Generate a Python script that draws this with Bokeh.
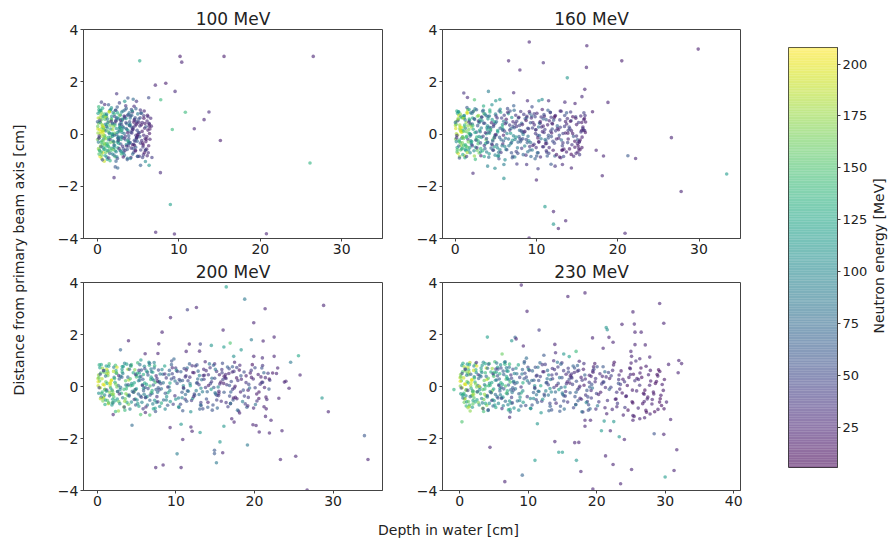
from math import pi
import numpy as np
from bokeh.plotting import figure
from bokeh.layouts import row, column
from bokeh.models import ColumnDataSource, Range1d, FixedTicker, LinearColorMapper, Label
from bokeh.palettes import Viridis256
from bokeh.embed import file_html
from bokeh.resources import INLINE

FONT = "DejaVu Sans"
TITLES = ["100 MeV", "160 MeV", "200 MeV", "230 MeV"]
X_TICKS = [[0, 10, 20, 30], [0, 10, 20, 30], [0, 10, 20, 30], [0, 10, 20, 30, 40]]
Y_TICKS = [-4, -2, 0, 2, 4]
CB_TICKS = [25, 50, 75, 100, 125, 150, 175, 200]
E_LOW, E_HIGH = 5.5, 208.0

# ---------------- 100 MeV ----------------
D100 = [
 0.12,0.48,0.83,0.27,0.66,0.05,0.91,0.38,0.72,0.19,
 0.33,0.57,0.78,0.96,0.08,0.24,0.44,0.63,0.87,0.52,
 0.15,0.36,0.55,0.71,0.93,0.21,0.41,0.61,0.81,0.03,
 0.17,0.39,0.59,0.77,0.98,0.29,0.47,0.69,0.89,0.09,
 0.14,0.34,0.54,0.74,0.94,0.26,0.46,0.64,0.84,0.6,
 1.62,1.08,1.87,1.33,1.45,1.96,1.17,1.71,1.25,1.54,
 1.41,1.79,1.06,1.93,1.28,1.66,1.14,1.52,1.83,1.37,
 1.22,1.58,1.91,1.04,1.74,1.35,1.47,1.85,1.11,1.68,
 1.77,1.19,1.49,1.02,1.64,1.29,1.97,1.39,1.56,1.89,
 2.34,2.81,2.07,2.59,2.93,2.18,2.66,2.42,2.87,2.11,
 2.51,2.26,2.73,2.02,2.95,2.38,2.62,2.15,2.84,2.47,
 2.69,2.13,2.44,2.9,2.28,2.77,2.56,2.05,2.36,2.99,
 2.29,2.71,2.91,2.09,2.79,2.45,2.65,2.18,2.55,2.97,
 3.44,3.08,3.77,3.25,3.92,3.56,3.13,3.69,3.37,3.85,
 3.61,3.19,3.83,3.48,3.02,3.71,3.33,3.96,3.27,3.54,
 3.16,3.88,3.41,3.63,3.06,3.52,3.79,3.29,3.94,3.67,
 4.27,4.71,4.09,4.55,4.86,4.33,4.62,4.18,4.93,4.44,
 4.58,4.12,4.79,4.38,4.96,4.23,4.67,4.04,4.51,4.84,
 4.46,4.02,4.74,4.31,4.89,4.15,4.64,4.97,4.36,4.81,
 5.1,5.3,5.5,5.7,5.9,5.2,5.4,5.6,5.8,6.0,
 6.2,6.1,5.35,5.65,6.3,5.95,5.15,6.4,5.75,6.25,
 5.45,6.05,5.25,5.85,6.35,5.55,6.15,5.05,5.7,6.45,
 10.15,10.36,15.55,26.5,5.2,7.12,8.4,9.54,6.3,7.78,
 10.8,13.7,13.1,11.9,9.2,15.1,26.1,7.74,8.96,7.16,
 9.46,20.75,2.37,2.05,2.2,2.5,5.3,6.35,0.9,0.5,
 3.36,3.75,4.4,6.55,6.62,6.7,5.9,4.8,
 0.07,0.44,0.81,0.23,0.58,0.96,0.31,0.69,0.13,0.52,
 0.28,0.65,0.02,0.88,0.41,0.75,0.18,0.93,0.35,0.62,
 1.18,1.56,1.03,1.84,1.32,1.69,1.09,1.47,1.93,1.27,
 1.61,1.22,1.78,1.4,1.98,1.14,1.52,1.86,1.36,1.73,
 2.16,2.58,2.31,2.86,2.44,2.03,2.74,2.22,2.67,2.95,
 2.39,2.81,2.12,2.63,2.27,2.92,2.53,2.07,2.78,2.48,
 3.21,3.58,3.07,3.86,3.39,3.72,3.14,3.51,3.93,3.29,
 3.66,3.02,3.45,3.81,3.18,3.97,3.34,3.76,3.1,3.55,
 4.17,4.56,4.03,4.84,4.29,4.68,4.11,4.48,4.92,4.36,
 4.63,4.21,4.77,4.41,4.97,4.06,4.52,4.88,4.33,4.73,
 5.22,5.63,5.08,5.87,5.41,5.77,5.16,5.52,5.96,5.33,
 6.08,6.33,5.58,6.21,5.92,6.45,5.28,6.12,5.71,6.38,
]
R100 = [
 0.61,-0.33,0.14,0.86,-0.71,0.29,-0.07,0.47,-0.52,0.93,
 -0.86,0.23,-0.19,0.56,0.04,-0.61,0.73,-0.41,0.17,-0.94,
 0.41,0.01,-0.27,0.67,-0.13,-0.77,0.89,0.31,-0.59,-0.21,
 1.04,-0.46,0.57,-0.03,0.37,0.16,-0.69,-0.26,0.76,0.79,
 -0.56,0.44,-0.81,0.24,-0.39,-0.14,0.09,0.99,-1.04,-0.09,
 -0.12,0.72,0.38,-0.66,0.05,-0.31,-0.88,0.58,0.24,0.91,
 0.47,-0.55,-0.18,0.82,-0.42,0.19,0.66,-0.74,-0.02,1.12,
 -0.97,0.33,-0.27,0.12,0.54,-0.48,0.86,-0.09,0.29,-0.63,
 0.68,-0.36,0.02,-0.71,0.93,0.44,-0.58,-0.22,-1.02,0.16,
 0.21,-0.64,0.77,-0.19,0.46,-0.87,0.09,0.63,-0.38,-0.05,
 -0.53,0.91,0.34,-0.31,-0.76,0.58,-0.12,0.41,0.73,-0.94,
 0.15,-0.43,1.03,-0.66,0.52,0.26,-0.28,-0.81,-0.02,0.84,
 -1.04,1.19,-0.21,0.03,0.23,-0.31,0.58,-0.64,-0.12,0.36,
 -0.22,0.54,0.12,-0.69,0.81,-0.4,0.28,-0.93,0.66,-0.07,
 0.39,-0.57,-0.29,1.08,0.06,0.72,-0.81,0.47,-0.16,0.21,
 0.88,-0.36,-0.62,0.17,-0.12,0.59,-0.46,0.02,0.33,-0.98,
 0.13,-0.51,0.69,-0.24,0.42,-0.77,0.31,0.94,-0.08,-0.39,
 0.56,-0.9,-0.16,0.25,0.77,0.04,-0.62,-0.33,1.06,0.48,
 -0.71,0.37,-0.05,0.84,-0.28,-0.54,0.62,-0.86,0.19,-0.14,
 0.45,-0.35,0.1,0.7,-0.62,-0.1,0.35,-0.5,0.22,-0.2,
 0.15,0.5,0.8,-0.8,-0.45,0.28,-0.85,0.02,0.88,-0.72,
 -0.25,-0.58,0.62,0.4,0.3,-0.9,0.72,0.05,-0.05,-0.2,
 2.97,2.75,2.97,2.97,2.8,1.87,1.94,1.63,1.39,1.31,
 0.83,0.84,0.55,0.2,0.17,-0.25,-1.11,-1.48,-2.7,-3.76,
 -3.83,-3.82,1.54,-1.67,-1.26,-1.3,-1.2,-1.2,1.13,1.22,
 1.25,1.38,1.33,0.6,0.3,-0.9,-1.05,1.25,
 0.19,-0.49,0.68,-0.08,0.36,-0.83,0.53,0.07,-0.31,0.81,
 -0.64,0.12,0.47,-0.36,0.91,0.27,-0.16,-0.58,0.62,-0.99,
 0.36,-0.21,0.64,-0.77,0.11,0.49,-0.46,0.84,-0.03,-0.63,
 -0.32,0.57,0.02,-0.92,0.29,0.76,-0.54,0.41,-0.13,1.0,
 0.34,-0.25,-0.68,0.53,0.06,-0.43,0.72,0.91,-0.56,-0.11,
 -0.87,0.26,0.67,-0.36,0.49,0.14,-0.16,-0.52,0.38,0.81,
 0.24,-0.46,0.57,-0.18,0.92,0.05,-0.73,0.43,-0.34,0.69,
 -0.59,0.15,-0.09,0.74,-0.88,0.33,0.61,-0.27,-0.47,0.98,
 0.27,-0.43,0.61,-0.15,0.88,-0.65,0.06,0.45,-0.85,0.18,
 -0.28,0.72,0.36,-0.56,-0.02,-0.94,0.53,0.14,-0.41,0.97,
 0.31,-0.42,0.57,-0.17,0.79,-0.72,0.05,0.44,-0.29,-0.61,
 -0.1,0.41,-0.35,0.66,-0.61,0.19,0.92,-0.83,0.6,0.38,
]
E100 = [
 186,152,171,122,197,161,139,178,112,131,
 201,166,96,154,176,126,189,146,169,187,
 167,183,134,101,159,149,147,193,117,164,
 141,177,157,184,91,196,129,163,144,121,
 174,106,161,139,181,156,199,127,191,176,
 151,96,131,171,111,184,81,144,121,76,
 161,116,174,91,136,104,149,66,141,61,
 124,164,101,86,154,131,188,114,71,146,
 106,139,89,159,119,79,169,99,134,179,
 109,81,134,61,94,151,71,119,56,89,
 126,66,99,84,141,74,116,51,104,49,
 91,129,61,109,71,96,144,79,64,101,
 69,46,121,159,87,112,93,138,76,58,
 71,51,94,41,81,109,61,84,46,66,
 89,56,69,36,101,43,76,59,31,47,
 86,64,41,99,56,119,44,81,34,61,
 41,66,31,54,26,79,36,51,21,59,
 46,29,69,36,89,41,23,59,31,54,
 49,84,39,26,71,34,57,23,44,28,
 30,45,20,38,25,55,15,40,28,18,
 22,30,48,35,20,60,40,18,25,32,
 35,26,50,20,28,45,22,62,30,24,
 20,25,20,25,125,25,20,30,50,140,
 140,30,25,25,140,20,135,30,120,25,
 25,25,35,30,60,70,65,110,30,45,
 110,55,75,30,25,40,100,35,
 190,60,150,35,175,120,45,200,90,165,
 145,185,70,160,110,195,30,140,175,55,
 130,45,180,95,155,25,140,190,70,115,
 160,85,125,40,175,100,150,60,135,110,
 140,40,95,25,120,70,160,55,30,105,
 85,130,50,110,35,150,75,100,60,125,
 90,35,125,55,70,25,105,45,80,30,
 60,115,40,75,20,95,50,130,35,65,
 60,20,85,35,110,25,45,15,70,30,
 40,75,25,55,18,95,30,50,22,65,
 35,20,55,25,70,18,40,30,22,45,
 25,40,18,30,50,20,35,28,15,22,
]

# ---------------- 160 MeV ----------------
D160 = [
 0.11,0.52,0.84,0.29,0.67,0.04,0.93,0.41,0.75,0.22,
 0.36,0.58,0.79,0.97,0.16,0.26,0.46,0.63,0.88,0.55,
 0.13,0.31,0.49,0.71,0.91,0.24,0.44,0.61,0.82,0.06,
 1.42,1.07,1.88,1.31,1.63,1.96,1.19,1.74,1.26,1.55,
 1.37,1.81,1.04,1.92,1.27,1.68,1.13,1.51,1.86,1.46,
 1.21,1.57,1.93,1.02,1.76,1.34,1.48,1.84,1.11,1.66,
 2.23,2.71,2.08,2.56,2.94,2.37,2.62,2.15,2.83,2.45,
 2.52,2.29,2.77,2.04,2.96,2.41,2.67,2.12,2.88,2.49,
 3.31,3.74,3.09,3.55,3.88,3.22,3.63,3.15,3.92,3.46,
 3.58,3.26,3.81,3.03,3.97,3.39,3.68,3.12,3.85,3.5,
 4.35,4.82,4.06,4.61,4.93,4.19,4.72,4.27,4.88,4.48,
 4.56,4.14,4.78,4.39,4.97,4.23,4.66,4.02,4.53,4.85,
 5.36,5.84,5.07,5.61,5.95,5.21,5.72,5.28,5.89,5.47,
 5.55,5.12,5.78,5.39,5.98,5.24,5.66,5.03,5.51,5.83,
 6.31,6.84,6.08,6.55,6.93,6.19,6.71,6.26,6.88,6.45,
 7.34,7.79,7.06,7.58,7.92,7.21,7.67,7.13,7.86,7.46,
 6.62,7.27,6.97,7.52,6.38,7.74,6.76,7.41,6.14,7.97,
 8.32,8.81,8.07,8.56,8.94,8.19,8.71,8.26,8.88,8.45,
 9.33,9.84,9.06,9.57,9.93,9.21,9.72,9.28,9.89,9.46,
 8.62,9.18,8.97,9.52,8.38,9.74,8.76,9.41,8.14,9.97,
 10.31,10.83,10.06,10.57,10.94,10.21,10.72,10.27,10.88,10.46,
 11.33,11.81,11.07,11.58,11.94,11.22,11.71,11.26,11.87,11.46,
 10.62,11.17,10.98,11.53,10.38,11.76,10.77,11.42,10.14,11.98,
 12.33,12.82,12.06,12.57,12.93,12.21,12.72,12.27,12.88,12.46,
 13.34,13.81,13.07,13.58,13.92,13.21,13.71,13.26,13.87,13.46,
 14.32,14.83,14.07,14.56,14.94,14.21,14.72,14.27,14.88,14.46,
 15.31,15.82,15.06,15.57,15.93,15.21,15.71,15.27,16.02,15.46,
 9.12,16.2,29.9,6.58,10.85,20.5,7.97,16.15,13.8,1.07,
 1.52,4.1,7.2,15.95,15.6,18.8,2.38,5.0,5.5,8.9,
 10.3,10.7,11.5,13.5,14.75,16.9,26.6,17.35,18.25,21.25,
 22.2,33.4,18.1,27.8,2.2,6.0,10.0,11.05,12.1,12.1,
 12.7,13.6,20.9,9.1,4.0,4.9,6.0,7.1,7.6,8.8,
 10.2,10.5,11.8,12.3,13.2,14.3,13.0,13.7,15.1,15.6,
 0.08,0.46,0.83,0.21,0.57,0.95,0.33,0.71,0.15,0.64,
 0.27,0.66,0.03,0.89,0.42,0.76,0.19,0.92,0.36,0.53,
 1.17,1.57,1.04,1.85,1.33,1.7,1.08,1.48,1.94,1.26,
 1.62,1.23,1.79,1.41,1.99,1.13,1.53,1.87,1.37,1.72,
 2.17,2.59,2.32,2.87,2.45,2.04,2.75,2.21,2.68,2.96,
 3.22,3.59,3.06,3.87,3.4,3.73,3.13,3.52,3.94,3.28,
 3.67,3.01,3.44,3.82,3.17,3.98,2.35,2.83,2.12,2.64,
 4.18,4.57,4.04,4.85,4.28,4.69,4.12,4.47,4.93,4.37,
 4.64,4.22,4.76,4.42,4.96,5.23,5.64,5.09,5.86,5.42,
 5.78,5.17,5.53,5.95,5.34,6.18,6.57,6.04,6.83,6.36,
 6.72,6.11,6.48,6.94,6.29,7.18,7.56,7.03,7.84,7.37,
 7.71,7.12,7.48,7.93,7.26,8.19,8.58,8.04,8.83,8.37,
 8.73,8.12,8.47,8.94,8.28,9.19,9.57,9.04,9.84,9.38,
 9.71,9.13,9.48,9.92,9.27,10.18,10.58,10.03,10.84,10.37,
 10.74,10.12,10.47,10.93,10.28,11.19,11.57,11.04,11.84,11.38,
 11.71,11.13,11.48,11.92,11.27,12.18,12.58,12.03,12.84,12.37,
 12.74,12.12,12.47,12.93,12.28,13.19,13.57,13.04,13.84,13.38,
 13.72,13.13,13.48,13.91,13.27,14.18,14.58,14.03,14.84,14.37,
 14.73,14.12,14.47,14.93,14.28,15.19,15.57,15.04,15.84,15.38,
 15.72,15.13,15.48,15.91,15.27,16.05,15.62,15.98,15.36,15.8,
]
R160 = [
 0.48,-0.29,0.07,0.79,-0.61,0.33,-0.11,0.56,-0.44,0.88,
 -0.74,0.19,-0.16,0.63,0.01,-0.52,0.71,-0.33,0.14,-0.86,
 0.37,-0.04,-0.24,0.66,-0.13,-0.69,0.84,0.27,-0.57,-0.19,
 -0.09,0.69,0.36,-0.63,0.04,-0.34,-0.83,0.57,0.22,0.93,
 0.44,-0.52,-0.17,0.81,-0.41,0.17,0.62,-0.71,-0.01,1.01,
 -0.91,0.31,-0.26,0.11,0.52,-0.47,0.83,-0.08,0.27,-0.61,
 0.18,-0.62,0.79,-0.21,0.43,-0.84,0.07,0.61,-0.37,0.96,
 -0.51,0.88,0.32,-0.29,-0.73,0.56,-0.12,0.38,0.71,-0.97,
 0.51,-0.37,0.09,0.78,-0.69,-0.13,0.41,-0.56,0.24,0.91,
 -0.86,0.64,-0.22,0.47,0.16,-0.64,0.76,-0.34,0.01,1.07,
 0.12,-0.49,0.67,-0.23,0.41,-0.76,0.29,0.92,-0.07,-0.38,
 0.55,-0.89,-0.15,0.24,0.76,0.03,-0.61,-0.32,1.12,0.47,
 -0.7,0.36,-0.04,0.83,-0.27,-0.53,0.61,-0.85,0.18,-0.13,
 0.95,-0.41,0.27,-0.95,0.49,0.08,-0.22,0.69,-0.6,0.15,
 0.44,-0.37,0.11,0.78,-0.72,-0.16,0.34,-0.59,0.21,0.97,
 -0.88,0.61,-0.24,0.49,0.14,1.08,-0.53,0.29,-0.1,0.72,
 -0.45,0.24,0.63,-0.67,0.02,-0.31,0.88,0.4,-0.99,-0.18,
 -0.18,0.63,0.86,-0.46,0.22,0.41,-0.81,0.07,-0.33,0.75,
 -0.86,0.66,-0.26,0.44,0.16,-0.61,0.77,-0.33,0.02,1.04,
 0.58,-0.48,-0.09,0.23,-0.79,0.35,-0.21,0.69,0.12,-0.52,
 -0.31,0.58,0.79,-0.18,0.06,-0.72,0.94,0.27,-0.49,0.41,
 -0.84,0.64,-0.21,0.51,0.19,-0.64,0.83,-0.36,0.04,-0.15,
 0.27,-0.27,0.68,-0.74,0.42,0.11,-0.49,0.91,-0.05,0.38,
 0.71,-0.05,-0.62,0.31,0.88,-0.35,0.16,-0.84,0.54,-0.19,
 -0.86,0.59,-0.23,0.48,0.14,-0.61,0.81,-0.34,0.03,0.29,
 0.12,0.66,-0.57,-0.09,0.36,0.84,-0.28,0.51,-0.74,0.02,
 -0.79,0.55,-0.22,0.44,0.13,-0.56,0.21,-0.31,0.06,0.69,
 3.52,3.38,3.25,2.8,2.73,2.8,2.45,2.55,2.15,1.57,
 1.4,1.63,1.58,1.71,1.43,1.21,1.31,1.27,1.32,1.27,
 1.27,1.32,1.27,1.22,1.17,0.85,-0.14,-0.62,-0.84,-0.83,
 -0.94,-1.53,-1.6,-2.2,-1.5,-1.7,-1.76,-2.78,-2.97,-3.45,
 -3.62,-3.32,-3.8,-3.98,-1.23,-1.31,-1.17,-0.85,-1.15,-1.17,
 -1.33,-0.88,-1.16,-1.23,-1.17,-1.3,-0.91,-0.69,-0.69,-0.52,
 0.21,-0.46,0.62,-0.06,0.34,-0.79,0.51,0.09,-0.29,0.76,
 -0.6,0.13,0.44,-0.34,0.85,0.25,-0.15,-0.54,0.58,-0.92,
 0.34,-0.2,0.6,-0.72,0.1,0.46,-0.43,0.79,-0.03,-0.59,
 -0.3,0.54,0.02,-0.86,0.27,0.71,-0.51,0.39,-0.12,0.94,
 0.32,-0.24,-0.64,0.5,0.06,-0.4,0.68,0.86,-0.53,-0.1,
 0.23,-0.44,0.54,-0.17,0.87,0.05,-0.69,0.41,-0.32,0.65,
 -0.56,0.14,-0.09,0.7,-0.83,0.31,0.58,-0.26,-0.45,0.93,
 0.26,-0.41,0.58,-0.14,0.84,-0.62,0.06,0.43,-0.81,0.17,
 -0.27,0.69,0.35,-0.54,-0.02,0.13,-0.71,0.47,-0.38,0.88,
 -0.45,0.61,0.22,-0.05,-0.82,0.39,-0.19,0.72,0.03,-0.6,
 0.15,-0.48,0.83,-0.33,0.56,-0.07,0.29,-0.91,0.64,-0.21,
 -0.74,0.47,-0.12,0.33,0.91,-0.55,0.1,-0.3,0.68,-0.02,
 0.52,-0.23,0.07,-0.68,0.36,0.79,-0.44,0.2,-0.95,0.61,
 -0.39,0.86,-0.61,0.16,0.43,-0.15,0.65,-0.84,0.3,-0.06,
 0.09,-0.72,0.48,0.74,-0.3,0.55,-0.52,0.17,-0.1,0.35,
 0.82,-0.37,-0.05,0.41,-0.7,0.62,0.21,-0.28,-0.88,0.12,
 -0.16,0.53,-0.79,0.26,0.68,-0.45,0.04,0.87,-0.33,-0.58,
 0.38,-0.62,0.71,-0.19,0.02,0.49,-0.85,0.27,0.6,-0.41,
 -0.51,0.2,0.66,-0.08,-0.78,0.44,0.13,-0.36,0.81,-0.23,
 0.27,-0.45,0.08,0.59,-0.3,0.46,-0.12,0.71,-0.6,0.15,
]
E160 = [
 171,139,196,121,162,184,111,151,176,129,
 201,164,101,146,181,124,189,156,134,169,
 159,186,141,94,174,149,119,191,114,166,
 149,101,179,129,161,119,191,146,91,171,
 176,109,156,81,139,166,126,184,104,61,
 131,171,96,151,116,141,194,86,159,121,
 121,159,86,141,101,174,71,131,149,91,
 111,144,61,126,164,96,136,76,179,141,
 101,129,71,149,91,119,61,139,109,81,
 124,86,159,66,106,134,96,56,116,131,
 89,121,61,139,76,111,51,131,99,71,
 114,81,149,56,94,126,86,46,104,119,
 81,111,56,124,66,101,46,114,91,61,
 106,71,134,51,86,116,76,41,95,65,
 69,101,46,116,56,89,41,104,79,51,
 94,61,119,41,76,66,89,51,71,36,
 86,56,111,46,96,71,61,36,101,49,
 51,79,36,94,46,71,31,86,61,41,
 71,46,96,29,56,66,41,79,36,51,
 61,39,81,44,69,31,56,74,49,34,
 41,66,29,84,36,56,23,76,49,31,
 61,39,89,26,54,34,71,46,21,58,
 36,59,26,48,79,41,31,66,52,24,
 31,56,21,69,27,46,19,64,39,26,
 51,33,76,24,44,29,61,36,19,41,
 26,46,19,59,23,39,16,54,31,21,
 41,26,61,19,36,24,49,31,16,29,
 25,25,20,25,30,20,25,25,110,35,
 30,90,30,25,30,25,150,110,115,30,
 105,100,30,30,25,20,25,25,25,60,
 25,115,25,25,30,105,25,115,25,110,
 25,25,25,25,95,100,90,60,40,35,
 40,30,60,35,30,25,30,25,25,20,
 195,70,155,40,180,125,50,200,100,170,
 150,190,80,165,115,200,35,145,180,60,
 135,50,185,100,160,30,145,195,75,120,
 165,90,130,45,180,105,155,65,140,115,
 145,45,100,30,125,75,165,60,35,110,
 95,40,130,60,75,30,110,50,85,35,
 65,120,45,80,25,100,55,135,40,70,
 80,30,110,45,130,35,60,25,95,140,
 55,95,35,70,25,120,40,75,30,60,
 90,35,65,25,105,30,80,45,115,55,
 40,100,30,70,20,95,35,60,25,85,
 50,30,110,45,75,40,25,65,30,90,
 20,55,35,80,28,60,22,45,70,30,
 40,25,85,30,55,20,35,60,25,70,
 30,75,22,50,18,65,28,40,55,24,
 35,20,60,28,45,18,30,50,22,40,
 25,55,18,40,15,45,22,35,48,20,
 30,18,50,22,40,15,28,45,20,35,
 20,45,15,35,12,40,18,30,42,16,
 25,15,40,18,30,20,22,35,15,28,
]

# ---------------- 200 MeV ----------------
D200 = [
 0.14,0.53,0.86,0.31,0.69,0.06,0.94,0.42,0.77,0.23,
 1.38,1.07,1.86,1.29,1.61,1.95,1.18,1.72,1.24,1.53,
 0.18,0.37,0.61,0.82,0.97,1.44,1.12,1.79,1.03,1.91,
 0.48,0.72,0.27,0.91,1.33,1.67,1.49,1.84,0.09,1.15,
 2.23,2.71,2.08,2.56,2.94,3.37,3.62,3.15,3.83,3.45,
 2.52,2.29,2.77,3.04,3.96,2.41,3.67,2.12,3.88,3.49,
 2.36,2.88,3.21,3.58,2.04,2.65,3.29,3.75,2.47,3.11,
 4.35,4.82,4.06,4.61,4.93,5.27,5.78,5.13,5.88,5.46,
 4.56,4.14,4.78,5.39,5.97,4.23,5.66,4.02,5.53,5.85,
 4.44,4.97,5.04,5.59,4.69,5.21,4.31,5.72,4.87,5.34,
 6.36,6.84,6.07,6.61,6.95,7.28,7.77,7.12,7.89,7.46,
 6.55,6.12,6.78,7.39,7.98,6.24,7.66,6.03,7.51,7.83,
 6.43,6.96,7.05,7.58,6.69,7.22,6.31,7.74,6.87,7.35,
 8.33,8.81,8.07,8.56,8.94,9.21,9.72,9.27,9.88,9.45,
 8.62,9.16,8.97,9.52,8.38,9.74,8.76,9.41,8.14,9.96,
 10.32,10.83,10.06,10.57,10.94,11.21,11.72,11.27,11.88,11.46,
 10.62,11.17,10.98,11.53,10.38,11.76,10.77,11.42,10.14,11.98,
 12.33,12.82,12.06,12.57,12.93,13.21,13.72,13.27,13.88,13.46,
 12.62,13.17,12.98,13.53,12.38,13.76,12.77,13.42,12.14,13.98,
 14.34,14.81,14.07,14.58,14.92,15.21,15.71,15.26,15.87,15.46,
 14.62,15.17,14.98,15.53,14.38,15.76,14.77,15.42,14.14,15.98,
 16.32,16.83,16.07,16.56,16.94,17.21,17.72,17.27,17.88,17.46,
 16.62,17.17,16.98,17.53,16.38,17.76,16.77,17.42,16.14,17.98,
 18.33,18.82,18.06,18.57,18.93,19.21,19.72,19.27,19.88,19.46,
 20.31,20.82,20.06,20.57,20.93,21.21,21.72,21.27,21.88,21.46,
 16.4,18.75,12.6,11.45,21.35,28.8,9.3,16.0,19.9,8.23,
 3.95,7.8,19.6,21.1,22.5,2.93,6.07,7.7,11.3,11.7,
 13.0,13.1,14.5,16.1,16.9,18.3,17.35,19.9,22.5,22.95,
 24.6,25.6,25.8,23.8,24.4,28.6,29.4,34.0,34.45,4.4,
 9.25,10.65,10.86,11.9,12.05,13.07,10.14,7.42,8.36,10.65,
 14.9,14.9,15.95,15.6,15.15,16.1,19.1,19.8,20.2,20.6,
 21.9,23.3,23.5,25.25,26.7,22.1,21.4,17.1,17.4,18.1,
 2.0,2.3,2.67,5.5,6.66,6.1,22.8,23.1,24.0,21.0,
 0.09,0.47,0.84,0.22,0.58,0.96,0.34,0.72,0.16,0.65,
 1.27,1.66,1.03,1.89,1.42,1.76,1.19,1.93,1.36,1.53,
 2.17,2.57,2.04,2.85,2.33,2.7,2.08,2.48,2.94,2.26,
 3.62,3.23,3.79,3.41,3.99,3.13,3.53,3.87,3.37,3.72,
 4.17,4.59,4.32,4.87,4.45,4.04,4.75,4.21,4.68,4.96,
 5.22,5.59,5.06,5.87,5.4,5.73,5.13,5.52,5.94,5.28,
 6.67,6.01,6.44,6.82,6.17,6.98,6.35,6.83,6.12,6.64,
 7.18,7.57,7.04,7.85,7.28,7.69,7.12,7.47,7.93,7.37,
 8.64,8.22,8.76,8.42,8.96,9.23,9.64,9.09,9.86,9.42,
 10.78,10.17,10.53,10.95,10.34,11.18,11.57,11.04,11.83,11.36,
 12.72,12.11,12.48,12.94,12.29,13.18,13.56,13.03,13.84,13.37,
 14.71,14.12,14.48,14.93,14.26,15.19,15.58,15.04,15.84,15.37,
 16.73,16.12,16.47,16.94,16.28,17.19,17.57,17.04,17.84,17.38,
 18.71,18.13,18.48,18.92,18.27,19.18,19.58,19.03,19.84,19.37,
 20.73,20.12,20.47,20.93,20.28,21.19,21.57,21.04,21.84,21.38,
 0.38,0.77,1.14,1.58,1.97,2.42,2.79,3.16,3.48,3.91,
 4.28,4.81,5.35,5.81,6.27,6.71,7.22,7.66,8.14,8.58,
 9.12,9.53,9.97,10.42,10.86,11.31,11.79,12.24,12.67,13.12,
 13.61,14.05,14.53,15.01,15.47,15.92,16.38,16.81,17.31,17.74,
 18.22,18.67,19.14,19.61,20.08,20.55,21.03,21.49,21.95,22.31,
]
R200 = [
 0.44,-0.27,0.06,0.72,-0.56,0.31,-0.12,0.52,-0.41,0.83,
 -0.66,0.18,-0.14,0.58,0.02,-0.49,0.66,-0.31,0.12,-0.22,
 0.34,-0.05,-0.21,0.61,-0.11,-0.63,0.79,0.25,-0.52,-0.18,
 0.84,-0.45,0.21,-0.33,0.42,-0.06,0.87,-0.71,0.03,0.48,
 0.16,-0.58,0.74,-0.19,0.39,-0.79,0.06,0.56,-0.34,0.89,
 -0.48,0.82,0.29,-0.26,-0.68,0.51,-0.09,0.35,0.66,-0.91,
 0.61,-0.12,-0.43,0.22,-0.29,0.04,0.77,-0.61,-0.02,0.36,
 0.11,-0.48,0.66,-0.22,0.43,-0.76,0.28,0.91,-0.07,-0.37,
 0.53,-0.87,-0.14,0.24,0.78,0.03,-0.61,-0.33,1.02,0.46,
 -0.18,0.37,-0.52,0.63,0.14,-0.29,0.84,0.07,-0.71,0.52,
 -0.71,0.36,-0.04,0.82,-0.27,-0.53,0.63,-0.86,0.19,-0.12,
 0.93,-0.41,0.27,-0.96,0.48,0.08,-0.22,0.68,-0.61,0.16,
 0.44,-0.16,-0.67,0.31,0.02,0.71,-0.39,-0.05,0.57,-0.84,
 0.47,-0.39,0.11,0.79,-0.72,-0.16,0.34,-0.58,0.21,0.98,
 -0.87,0.62,-0.24,0.49,0.14,1.06,-0.52,0.29,-0.09,0.71,
 -0.44,0.23,0.62,-0.68,0.03,-0.31,0.87,0.41,-0.97,-0.17,
 0.57,-0.49,-0.08,0.22,-0.81,0.36,-0.22,0.71,0.12,-0.54,
 -0.29,0.59,0.8,-0.16,0.07,-0.73,0.95,0.26,-0.48,0.42,
 0.13,-0.62,0.42,0.66,-0.34,-0.04,0.29,-0.86,0.54,-0.2,
 0.72,-0.04,-0.61,0.32,0.87,-0.34,0.17,-0.83,0.53,-0.18,
 -0.91,0.58,-0.24,0.45,0.11,-0.57,0.82,-0.35,0.04,0.27,
 0.46,-0.37,0.12,0.75,-0.66,-0.11,0.33,-0.52,0.23,0.93,
 -0.78,0.56,-0.21,0.01,0.31,-0.47,0.68,-0.06,0.39,-0.94,
 0.28,-0.67,0.63,-0.14,0.41,-0.42,0.84,0.08,-0.83,0.52,
 -0.56,0.37,0.72,-0.21,0.16,-0.78,0.51,-0.04,0.29,-0.41,
 3.83,3.36,3.04,2.95,2.99,3.12,2.65,2.17,2.45,2.09,
 1.76,1.64,1.8,1.75,1.9,1.41,1.26,1.27,1.35,1.63,
 1.36,1.63,1.58,1.52,1.67,1.41,1.16,1.16,1.16,0.71,
 0.93,1.18,0.44,0.17,-0.07,-0.44,-0.97,-1.89,-2.81,-1.49,
 -1.58,-1.45,-2.04,-1.56,-1.72,-1.77,-2.59,-3.12,-3.02,-3.12,
 -2.45,-2.58,-2.55,-2.13,-2.93,-1.53,-2.25,-1.47,-1.5,-1.75,
 -1.79,-2.81,-1.7,-2.68,-3.98,-1.3,-1.15,-1.24,-1.37,-1.02,
 -1.08,-0.96,-0.94,-1.08,-1.1,-1.0,0.5,-0.45,0.2,1.1,
 0.18,-0.41,0.55,-0.05,0.3,-0.69,0.47,0.08,-0.26,0.7,
 -0.54,0.12,0.4,-0.31,0.78,0.23,-0.14,-0.62,0.52,-0.36,
 0.31,-0.19,0.58,-0.66,0.09,0.42,-0.4,0.74,-0.03,-0.55,
 -0.28,0.5,0.02,-0.79,0.25,0.66,-0.47,0.36,-0.11,0.86,
 0.3,-0.22,-0.6,0.47,0.05,-0.37,0.64,0.81,-0.5,-0.09,
 0.22,-0.41,0.51,-0.16,0.84,0.04,-0.66,0.38,-0.3,0.62,
 -0.53,0.13,-0.08,0.67,-0.79,0.29,0.55,-0.24,-0.43,0.89,
 0.24,-0.39,0.55,-0.13,0.8,-0.59,0.06,0.41,-0.77,0.16,
 -0.26,0.65,0.33,-0.52,-0.02,0.13,-0.68,0.45,-0.36,0.84,
 -0.43,0.58,0.21,-0.05,-0.78,0.37,-0.18,0.69,0.03,-0.57,
 0.14,-0.46,0.79,-0.31,0.53,-0.07,0.28,-0.87,0.61,-0.2,
 -0.71,0.45,-0.11,0.32,0.87,-0.52,0.1,-0.29,0.65,-0.02,
 0.5,-0.22,0.07,-0.65,0.34,0.76,-0.42,0.19,-0.91,0.58,
 -0.37,0.82,-0.58,0.15,0.41,-0.14,0.62,-0.8,0.29,-0.06,
 0.09,-0.69,0.46,0.71,-0.29,0.53,-0.5,0.16,-0.1,0.34,
 -0.47,0.61,-0.18,0.13,-0.63,0.52,-0.29,0.77,-0.57,0.07,
 0.78,-0.12,0.36,-0.86,0.59,-0.33,0.92,0.2,-0.64,0.48,
 -0.02,0.72,-0.49,0.27,-0.93,0.63,0.11,-0.39,0.83,-0.71,
 0.43,-0.8,0.18,0.66,-0.26,0.89,-0.62,0.04,-0.44,0.73,
 -0.21,0.56,-0.74,0.35,-0.05,-0.46,0.81,-0.86,0.24,0.52,
]
E200 = [
 176,141,198,119,166,186,109,154,181,131,
 201,161,99,144,184,121,191,151,136,171,
 159,189,139,91,171,146,114,196,111,161,
 126,181,156,101,166,131,149,116,189,176,
 126,161,91,144,106,176,81,136,151,96,
 116,146,66,129,166,101,139,81,181,141,
 131,101,86,156,171,71,111,121,161,66,
 106,131,71,149,86,121,61,141,111,81,
 124,91,159,66,101,136,96,56,116,131,
 81,146,99,56,121,71,139,91,61,109,
 86,116,61,129,71,106,51,119,96,66,
 111,76,139,56,91,121,81,46,101,71,
 66,131,94,41,146,76,106,61,86,116,
 76,106,51,121,61,96,46,111,86,56,
 99,66,124,46,81,71,94,56,76,41,
 91,61,116,51,101,76,66,41,106,54,
 66,44,86,49,74,36,61,79,54,39,
 46,71,34,89,41,61,28,81,54,36,
 66,44,94,31,59,39,76,51,26,69,
 36,61,26,79,31,51,21,71,44,29,
 56,36,81,24,49,31,66,41,21,46,
 29,51,21,64,26,41,18,59,34,23,
 44,27,66,21,39,26,54,33,18,31,
 24,44,16,54,21,36,14,49,29,19,
 36,21,49,16,31,24,41,26,14,19,
 120,85,25,45,25,25,25,25,25,25,
 25,25,90,25,25,70,25,25,25,25,
 25,45,110,115,150,110,105,25,25,25,
 85,125,25,25,25,110,25,60,25,75,
 25,110,25,25,25,110,90,25,25,25,
 60,60,25,110,85,110,85,25,25,25,
 25,25,25,25,25,25,25,25,25,25,
 25,140,175,150,150,25,25,25,25,30,
 200,75,160,45,185,130,55,195,105,175,
 155,190,85,170,120,200,40,150,185,65,
 140,55,185,105,165,35,150,195,80,125,
 170,95,135,50,185,110,160,70,145,120,
 150,50,105,35,130,80,170,65,40,115,
 100,45,135,65,80,35,115,55,90,40,
 70,125,50,85,30,105,60,140,45,75,
 85,35,115,50,135,40,65,30,100,145,
 60,100,40,75,30,125,45,80,35,65,
 95,40,70,30,110,35,85,50,120,60,
 45,105,35,75,25,100,40,65,30,90,
 55,35,115,50,80,45,30,70,35,95,
 25,60,40,85,30,65,25,50,75,35,
 45,30,90,35,60,25,40,65,30,75,
 35,80,25,55,20,70,30,45,60,28,
 185,45,130,200,90,160,30,120,175,60,
 140,70,105,40,120,55,95,25,130,35,
 75,30,110,45,60,25,90,35,55,70,
 30,65,40,85,25,50,35,60,20,45,
 25,50,30,20,45,15,35,22,40,18,
]

# ---------------- 230 MeV ----------------
D230 = [
 0.15,0.54,0.87,0.32,0.68,0.07,0.95,0.43,0.78,-0.83,
 1.39,1.08,1.87,1.31,1.62,1.96,1.19,1.73,1.25,1.54,
 0.19,0.38,0.62,0.83,0.98,1.45,1.13,1.79,1.04,1.92,
 0.49,0.73,0.26,0.92,1.34,1.68,1.5,1.85,0.1,1.16,
 2.24,2.72,2.09,2.57,2.95,3.38,3.63,3.16,3.84,3.46,
 2.53,2.3,2.78,3.05,3.97,2.42,3.68,2.13,3.89,3.5,
 2.37,2.89,3.22,3.59,2.05,2.66,3.3,3.76,2.48,3.12,
 4.36,4.83,4.07,4.62,4.94,5.28,5.79,5.14,5.89,5.47,
 4.57,4.15,4.79,5.4,5.98,4.24,5.67,4.03,5.54,5.86,
 4.45,4.98,5.05,5.6,4.7,5.22,4.32,5.73,4.88,5.35,
 6.37,6.85,6.08,6.62,6.96,7.29,7.78,7.13,7.9,7.47,
 6.56,6.13,6.79,7.4,7.99,6.25,7.67,6.04,7.52,7.84,
 6.44,6.97,7.06,7.59,6.7,7.23,6.32,7.75,6.88,7.36,
 8.34,8.82,8.08,8.57,8.95,9.22,9.73,9.28,9.89,9.46,
 8.63,9.17,8.98,9.53,8.39,9.75,8.77,9.42,8.15,9.97,
 10.33,10.84,10.07,10.58,10.95,11.22,11.73,11.28,11.89,11.47,
 10.63,11.18,10.99,11.54,10.39,11.77,10.78,11.43,10.15,11.99,
 12.34,12.83,12.07,12.58,12.94,13.22,13.73,13.28,13.89,13.47,
 12.63,13.18,12.99,13.54,12.39,13.77,12.78,13.43,12.15,13.99,
 14.35,14.82,14.08,14.59,14.93,15.22,15.72,15.27,15.88,15.47,
 14.63,15.18,14.99,15.54,14.39,15.77,14.78,15.43,14.15,15.99,
 16.33,16.84,16.08,16.57,16.95,17.22,17.73,17.28,17.89,17.47,
 16.63,17.18,16.99,17.54,16.39,17.77,16.78,17.43,16.15,17.99,
 18.34,18.83,18.07,18.58,18.94,19.22,19.73,19.28,19.89,19.47,
 18.64,19.19,18.98,19.55,18.4,19.78,18.79,19.44,18.16,19.98,
 20.32,20.83,20.07,20.58,20.94,21.22,21.73,21.28,21.89,21.47,
 22.33,22.84,22.08,22.57,22.95,23.22,23.73,23.28,23.89,23.47,
 24.34,24.83,24.07,24.58,24.94,25.22,25.73,25.28,25.89,25.47,
 26.33,26.84,26.07,26.58,26.95,27.22,27.73,27.28,27.89,27.47,
 28.34,28.83,28.07,28.58,28.95,29.22,29.73,29.28,29.89,29.47,
 9.0,18.3,15.8,9.84,29.2,25.3,29.8,21.4,21.55,23.7,
 25.5,26.5,11.6,4.05,7.6,8.1,8.25,9.3,13.9,19.4,
 21.8,20.95,22.4,25.6,25.6,27.1,25.0,25.1,26.3,27.75,
 30.5,32.0,32.4,31.9,30.8,28.4,29.8,31.7,31.3,30.0,
 4.43,0.34,7.3,11.35,11.0,9.15,6.6,13.9,14.47,15.0,
 16.8,17.4,17.05,17.7,19.45,18.3,19.1,18.3,21.1,20.7,
 22.0,22.5,21.3,22.4,23.5,23.3,24.05,25.1,25.3,25.3,
 26.3,27.0,27.8,14.0,15.2,17.0,16.0,12.3,6.2,30.2,
 0.1,0.48,0.85,0.24,0.59,0.97,0.35,0.73,0.17,0.66,
 1.28,1.67,1.04,1.9,1.43,1.77,1.2,1.94,1.37,1.54,
 2.18,2.58,2.05,2.86,2.34,2.71,2.09,2.49,2.95,2.27,
 3.63,3.24,3.8,3.42,3.99,3.14,3.54,3.88,3.38,3.73,
 4.18,4.6,4.33,4.88,4.46,4.05,4.76,4.22,4.69,4.97,
 5.23,5.6,5.07,5.88,5.41,5.74,5.14,5.53,5.95,5.29,
 6.68,6.02,6.45,6.83,6.18,6.99,6.36,6.84,6.13,6.65,
 7.19,7.58,7.05,7.86,7.29,7.7,7.13,7.48,7.94,7.38,
 8.65,8.23,8.77,8.43,8.97,9.24,9.65,9.1,9.87,9.43,
 10.79,10.18,10.54,10.96,10.35,11.19,11.58,11.05,11.84,11.37,
 12.73,12.12,12.49,12.95,12.3,13.19,13.57,13.04,13.85,13.38,
 14.72,14.13,14.49,14.94,14.27,15.2,15.59,15.05,15.85,15.38,
 16.74,16.13,16.48,16.95,16.29,17.2,17.58,17.05,17.85,17.39,
 18.72,18.14,18.49,18.93,18.28,19.19,19.59,19.04,19.85,19.38,
 20.74,20.13,20.48,20.94,20.29,21.2,21.58,21.05,21.85,21.39,
 22.73,22.12,22.47,22.93,22.28,23.19,23.57,23.04,23.84,23.38,
 24.71,24.13,24.48,24.92,24.27,25.18,25.58,25.03,25.84,25.37,
 26.72,26.12,26.47,26.93,26.28,27.19,27.57,27.04,27.84,27.38,
 28.73,28.12,28.47,28.93,28.28,29.19,29.57,29.04,29.84,29.38,
 0.42,0.81,1.22,1.63,2.01,2.44,2.88,3.31,3.75,4.18,
]
R230 = [
 0.46,-0.31,0.08,0.81,-0.61,0.34,-0.13,0.57,-0.46,-0.12,
 -0.77,0.19,-0.17,0.64,0.03,-0.54,0.74,-0.36,0.14,-0.94,
 0.37,-0.05,-0.26,0.67,-0.14,-0.71,0.86,0.27,-0.59,-0.21,
 0.89,-0.48,0.22,-0.36,0.45,-0.07,0.92,-0.8,0.02,0.51,
 0.17,-0.62,0.79,-0.21,0.42,-0.84,0.07,0.6,-0.37,0.93,
 -0.51,0.86,0.31,-0.28,-0.72,0.54,-0.1,0.37,0.71,-0.96,
 0.64,-0.13,-0.46,0.23,-0.3,0.04,0.82,-0.65,-0.02,0.38,
 0.12,-0.51,0.7,-0.23,0.45,-0.81,0.29,0.95,-0.08,-0.39,
 0.56,-0.92,-0.15,0.25,0.83,0.03,-0.65,-0.35,0.74,0.49,
 -0.19,0.39,-0.55,0.67,0.15,-0.31,0.88,0.07,-0.75,0.55,
 -0.74,0.38,-0.04,0.86,-0.28,-0.56,0.66,-0.9,0.2,-0.13,
 0.93,-0.43,0.28,-0.98,0.5,0.08,-0.23,0.71,-0.64,0.17,
 0.46,-0.17,-0.7,0.32,0.02,0.74,-0.41,-0.05,0.6,-0.88,
 0.49,-0.41,0.11,0.83,-0.75,-0.17,0.36,-0.61,0.22,0.96,
 -0.91,0.65,-0.25,0.51,0.15,1.09,-0.54,0.3,-0.09,0.74,
 -0.46,0.24,0.65,-0.71,0.03,-0.32,0.91,0.43,-1.01,-0.18,
 0.6,-0.51,-0.08,0.23,-0.85,0.38,-0.23,0.74,0.13,-0.57,
 -0.3,0.62,0.84,-0.17,0.07,-0.76,0.99,0.27,-0.5,0.44,
 0.14,-0.65,0.44,0.69,-0.36,-0.04,0.3,-0.9,0.57,-0.21,
 0.75,-0.04,-0.64,0.34,0.91,-0.36,0.18,-0.87,0.56,-0.19,
 -0.95,0.61,-0.25,0.47,0.12,-0.6,0.86,-0.37,0.04,0.28,
 0.48,-0.39,0.13,0.79,-0.69,-0.12,0.35,-0.55,0.24,0.97,
 -0.82,0.59,-0.22,0.01,0.33,-0.49,0.71,-0.06,0.41,-0.98,
 0.29,-0.7,0.66,-0.15,0.43,-0.44,0.88,0.08,-0.87,0.55,
 -0.58,0.39,-0.02,0.76,-0.33,0.18,-0.91,0.6,0.05,-0.27,
 -0.59,0.39,0.76,-0.22,0.17,-0.82,0.54,-0.04,0.31,-1.05,
 0.62,-0.48,-0.03,0.93,-0.78,0.27,-0.25,0.44,-1.1,0.08,
 -0.37,0.71,0.18,-0.91,0.46,-0.14,0.98,-0.63,0.31,-1.15,
 0.52,-0.26,-0.83,0.35,-0.58,0.78,0.05,-0.99,0.21,-0.41,
 -0.29,0.46,-0.67,0.12,-0.88,0.58,-0.15,-0.47,0.27,-0.73,
 3.9,3.6,3.46,2.89,3.19,2.87,2.43,2.27,2.18,2.39,
 2.4,2.09,2.17,1.9,1.76,1.89,1.83,1.56,1.62,1.87,
 1.89,1.47,1.7,1.61,2.09,1.6,1.35,1.16,1.07,1.13,
 0.85,1.0,0.88,0.53,-1.27,-1.82,-1.84,-2.43,-3.23,-3.48,
 -2.34,-1.36,-1.18,-1.43,-2.84,-3.41,-3.66,-2.12,-2.53,-2.53,
 -2.16,-2.15,-2.84,-3.27,-3.94,-1.3,-1.3,-1.53,-1.33,-1.7,
 -1.7,-1.35,-2.67,-3.0,-3.74,-1.93,-2.04,-3.19,-1.12,-1.3,
 -1.24,-1.2,-1.06,1.3,1.25,1.35,1.15,1.2,1.25,-0.6,
 0.2,-0.44,0.6,-0.06,0.33,-0.75,0.5,0.09,-0.28,0.76,
 -0.58,0.13,0.43,-0.33,0.84,0.24,-0.15,-0.67,0.56,-0.39,
 0.33,-0.2,0.62,-0.71,0.1,0.45,-0.43,0.79,-0.03,-0.59,
 -0.3,0.54,0.02,-0.85,0.27,0.71,-0.5,0.39,-0.12,0.88,
 0.32,-0.24,-0.65,0.5,0.05,-0.4,0.69,0.86,-0.54,-0.1,
 0.24,-0.44,0.55,-0.17,0.9,0.04,-0.71,0.41,-0.32,0.67,
 -0.57,0.14,-0.09,0.72,-0.85,0.31,0.59,-0.26,-0.46,0.95,
 0.26,-0.42,0.59,-0.14,0.86,-0.63,0.06,0.44,-0.83,0.17,
 -0.28,0.7,0.35,-0.56,-0.02,0.14,-0.73,0.48,-0.39,0.9,
 -0.46,0.62,0.23,-0.05,-0.84,0.4,-0.19,0.74,0.03,-0.61,
 0.15,-0.49,0.85,-0.33,0.57,-0.08,0.3,-0.93,0.65,-0.21,
 -0.76,0.48,-0.12,0.34,0.93,-0.56,0.11,-0.31,0.7,-0.02,
 0.54,-0.24,0.08,-0.7,0.36,0.81,-0.45,0.2,-0.97,0.62,
 -0.4,0.88,-0.62,0.16,0.44,-0.15,0.66,-0.86,0.31,-0.06,
 0.1,-0.74,0.49,0.76,-0.31,0.57,-0.54,0.17,-0.11,0.37,
 -0.49,0.41,0.83,-0.22,-0.88,0.12,0.6,-0.65,0.28,-0.1,
 0.35,-0.81,0.04,0.68,-0.38,-0.59,0.22,0.9,-0.17,0.47,
 -0.66,0.27,0.71,-0.3,0.05,-0.92,0.45,-0.14,0.62,-0.48,
 0.19,-0.5,-0.97,0.4,-0.21,-0.6,0.08,0.64,-0.86,-0.34,
 -0.34,0.66,-0.82,0.47,-0.18,0.92,0.01,-0.63,0.53,-0.9,
]
E230 = [
 171,141,199,116,161,189,106,151,181,136,
 196,166,96,141,179,121,186,146,131,171,
 156,191,136,91,176,146,116,196,111,161,
 126,176,151,96,166,131,186,116,171,146,
 131,166,96,151,111,181,86,141,156,101,
 121,151,71,136,171,106,146,86,186,146,
 136,106,91,161,176,76,116,126,166,71,
 111,136,76,156,91,126,66,146,116,86,
 129,96,166,71,106,141,101,61,121,136,
 86,151,104,61,126,76,146,96,66,114,
 96,126,66,136,76,111,56,126,101,71,
 116,81,146,61,96,126,86,51,106,76,
 71,136,99,46,151,81,111,66,91,121,
 81,111,56,126,66,101,51,116,91,61,
 104,71,129,51,86,76,99,61,81,46,
 96,66,121,56,106,81,71,46,111,59,
 71,49,91,54,79,41,66,84,59,44,
 51,76,39,94,46,66,33,86,59,41,
 71,49,99,36,64,44,81,56,31,74,
 41,66,31,84,36,56,26,76,49,34,
 61,41,86,29,54,36,71,46,26,51,
 34,56,26,69,31,46,23,64,39,28,
 49,32,71,26,44,31,59,38,23,36,
 29,49,21,59,26,41,19,54,34,24,
 41,26,64,21,36,29,51,31,18,46,
 41,26,54,21,36,29,46,31,19,24,
 31,21,44,16,26,36,19,29,24,41,
 26,19,36,14,29,21,33,16,24,19,
 21,16,29,14,24,19,26,12,21,17,
 19,14,24,12,21,16,19,11,17,14,
 25,25,25,25,25,25,25,110,105,25,
 25,25,40,120,110,70,25,25,25,25,
 25,25,25,25,25,25,25,25,25,25,
 25,25,25,25,25,55,25,25,25,115,
 25,150,25,110,115,70,25,25,115,115,
 25,25,110,25,25,25,25,25,110,115,
 25,110,25,25,25,110,25,25,25,25,
 25,25,25,30,110,140,120,60,160,25,
 200,80,165,50,190,135,60,195,110,180,
 160,195,90,175,125,200,45,155,185,70,
 145,60,190,110,170,40,155,200,85,130,
 175,100,140,55,190,115,165,75,150,125,
 155,55,110,40,135,85,175,70,45,120,
 105,50,140,70,85,40,120,60,95,45,
 75,130,55,90,35,110,65,145,50,80,
 90,40,120,55,140,45,70,35,105,150,
 65,105,45,80,35,130,50,85,40,70,
 100,45,75,35,115,40,90,55,125,65,
 50,110,40,80,30,105,45,70,35,95,
 60,40,120,55,85,50,35,75,40,100,
 30,65,45,90,35,70,30,55,80,40,
 50,35,95,40,65,30,45,70,35,80,
 40,85,30,60,25,75,35,50,65,30,
 25,45,20,35,30,55,18,40,22,28,
 20,40,15,30,25,18,35,22,28,16,
 18,30,14,22,35,16,25,12,20,28,
 15,25,12,20,18,14,22,11,16,19,
 120,40,175,65,150,30,190,95,140,55,
]

DEPTHS = [D100, D160, D200, D230]
DISTS = [R100, R160, R200, R230]
ENERGIES = [E100, E160, E200, E230]
X_RANGES = [(-1.7, 35.0), (-1.55, 35.1), (-1.78, 36.3), (-2.5, 41.0)]

mapper = LinearColorMapper(palette=Viridis256, low=E_LOW, high=E_HIGH)
TXT = "#222222"
FRAME = "#444444"


def style_axis(ax, size="14px"):
    ax.major_label_text_font = FONT
    ax.major_label_text_font_size = size
    ax.major_label_text_color = TXT
    ax.major_tick_out = 3
    ax.major_tick_in = 0
    ax.minor_tick_out = 0
    ax.minor_tick_in = 0
    ax.major_label_standoff = 2
    ax.axis_line_color = FRAME
    ax.major_tick_line_color = FRAME


def make_panel(i, width, height, bl, br, bt, bb, standoff):
    xs, ys, es = DEPTHS[i], DISTS[i], ENERGIES[i]
    n = min(len(xs), len(ys), len(es))
    src = ColumnDataSource(dict(x=xs[:n], y=ys[:n], e=es[:n]))
    p = figure(width=width, height=height, x_range=Range1d(*X_RANGES[i]),
               y_range=Range1d(-4, 4), toolbar_location=None, output_backend="svg",
               min_border_left=bl, min_border_right=br, min_border_top=bt,
               min_border_bottom=bb, title=TITLES[i])
    p.title.align = "center"
    p.title.text_font = FONT
    p.title.text_font_size = "17px"
    p.title.text_font_style = "normal"
    p.title.text_color = TXT
    p.title.standoff = standoff
    p.grid.visible = False
    p.outline_line_color = FRAME
    p.outline_line_width = 1
    p.scatter("x", "y", source=src, size=3.6,
              fill_color={"field": "e", "transform": mapper},
              line_color=None, fill_alpha=0.6)
    style_axis(p.xaxis[0])
    style_axis(p.yaxis[0])
    p.xaxis[0].ticker = FixedTicker(ticks=X_TICKS[i])
    p.yaxis[0].ticker = FixedTicker(ticks=Y_TICKS)
    p.yaxis[0].major_label_overrides = {-4: "\u22124", -2: "\u22122"}
    return p


f1 = make_panel(0, 362, 259, 53, 10, 29, 21, 2)
f2 = make_panel(1, 358, 259, 50, 10, 29, 21, 2)
f3 = make_panel(2, 362, 253, 53, 10, 23, 22, 1)
f4 = make_panel(3, 358, 253, 50, 10, 23, 22, 1)


def blank(width, height):
    p = figure(width=width, height=height, x_range=Range1d(0, width),
               y_range=Range1d(0, height), min_border=0, x_axis_location=None,
               y_axis_location=None, toolbar_location=None, output_backend="svg",
               outline_line_color=None)
    p.grid.visible = False
    return p


ylab = blank(30, 512)
ylab.add_layout(Label(x=18, y=512 - 259, text="Distance from primary beam axis [cm]",
                      angle=pi / 2, text_align="center", text_baseline="middle",
                      text_font=FONT, text_font_size="14px", text_color=TXT))

xlab = blank(888, 34)
xlab.add_layout(Label(x=448, y=17, text="Depth in water [cm]", text_align="center",
                      text_baseline="middle", text_font=FONT, text_font_size="14px",
                      text_color=TXT))

# colour bar drawn from the colour mapper's range
levels = np.linspace(E_LOW, E_HIGH, len(Viridis256) + 1)
cb = figure(width=120, height=512, x_range=Range1d(0, 1), y_range=Range1d(E_LOW, E_HIGH),
            toolbar_location=None, output_backend="svg", min_border_left=38,
            min_border_right=33, min_border_top=47, min_border_bottom=45,
            x_axis_location=None, y_axis_location="right")
cb.quad(left=0, right=1, bottom=levels[:-1], top=levels[1:], fill_color=list(Viridis256),
        line_color=None, fill_alpha=0.6)
cb.grid.visible = False
cb.outline_line_color = FRAME
style_axis(cb.yaxis[0], "13px")
cb.yaxis[0].ticker = FixedTicker(ticks=CB_TICKS)

cblab = blank(18, 512)
cblab.add_layout(Label(x=8, y=512 - 254, text="Neutron energy [MeV]", angle=pi / 2,
                       text_align="center", text_baseline="middle", text_font=FONT,
                       text_font_size="14px", text_color=TXT))

layout = column(row(ylab, column(row(f1, f2), row(f3, f4)), cb, cblab), xlab)

open("out.html", "w").write(file_html(layout, INLINE))
